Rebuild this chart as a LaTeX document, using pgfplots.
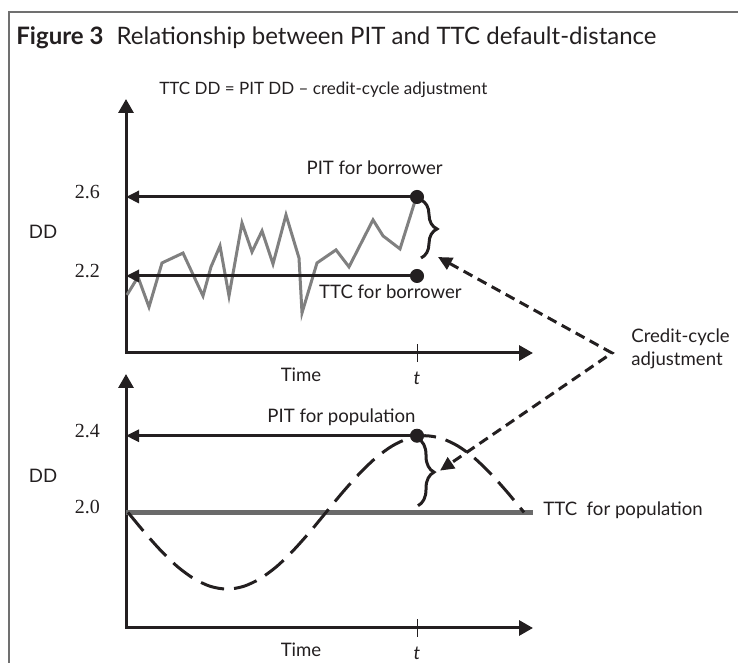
\documentclass[border=0pt]{standalone}
\usepackage{fontspec}
\setmainfont{Lato}
\newfontfamily\numfont{Liberation Serif}
\usepackage{pgfplots}
\pgfplotsset{compat=1.18}
\usetikzlibrary{arrows.meta,decorations.pathreplacing}
\definecolor{ink}{HTML}{231F20}
\definecolor{jag}{HTML}{808080}
\definecolor{ttc}{HTML}{6A6A6A}
\definecolor{frame}{HTML}{707070}

\tikzset{
  harrow/.style={line width=1.5pt, ink, -{Triangle[length=6.5pt,width=6pt]}},
  axarrows/.style={line width=1.5pt, ink, {Triangle[length=7pt,width=7.5pt]}-{Triangle[length=7pt,width=7.5pt]}},
}
\pgfplotsset{
  panel/.style={
    scale only axis, width=203.5pt, height=127pt, clip=false,
    xmin=0, xmax=407,
    axis lines=left, axis line style={draw=none},
    xtick={291}, xticklabels={\textit{t}},
    x tick style={draw=ink, line width=0.5pt},
    ytick style={draw=none},
    tick align=center, major tick length=9pt,
    xticklabel style={anchor=center, yshift=-8pt, font=\fontsize{9.3}{11}\selectfont, text=ink},
    yticklabel style={font=\numfont\fontsize{10}{12}\selectfont, text=ink, xshift=-5pt, yshift=2.5pt},
    /pgf/number format/assume math mode=true,
    /pgf/number format/fixed, /pgf/number format/precision=1, /pgf/number format/fixed zerofill,
    xlabel={Time},
    xlabel style={at={(rel axis cs:0.43,0)}, anchor=center, yshift=-11pt, font=\fontsize{9.3}{11}\selectfont, text=ink},
  },
}

\begin{document}
\begin{tikzpicture}
\useasboundingbox (0,0) rectangle (369pt,331.5pt);
% frame
\draw[line width=0.9pt, frame] (4.5pt,0pt) -- (4.5pt,325.5pt) -- (369pt,325.5pt);

% ---------- upper panel: borrower ----------
\begin{axis}[panel, name=top, at={(63pt,155pt)}, anchor=south west,
  ymin=1.81, ymax=3.096, ytick={2.2,2.6}]
  \draw[axarrows] (axis cs:0,3.096) -- (axis cs:0,1.81) -- (axis cs:407,1.81);
  \addplot[jag, line width=1.5pt] coordinates {
    (1,2.104) (12,2.195) (23,2.043) (36,2.266) (57,2.316) (77,2.099)
    (85,2.246) (94,2.352) (103,2.099) (116,2.468) (126,2.322) (136,2.428)
    (147,2.261) (160,2.509) (173,2.291) (176,2.013) (191,2.266) (210,2.332)
    (223,2.246) (247,2.484) (257,2.403) (274,2.337) (290,2.595)
  };
  \addplot[harrow] coordinates {(291,2.6) (0,2.6)};
  \addplot[harrow] coordinates {(291,2.2) (0,2.2)};
  \addplot[only marks, mark=*, mark size=3.3pt, ink] coordinates {(291,2.6) (291,2.2)};
  \draw[ink, line width=1.5pt, decorate, decoration={brace, amplitude=8pt}]
    (axis cs:295,2.585) -- (axis cs:295,2.291);
  \coordinate (ut) at (axis cs:312,2.296);
  \coordinate (vx) at (axis cs:486,1.81);
\end{axis}

% ---------- lower panel: population ----------
\begin{axis}[panel, name=bot, at={(63pt,17.5pt)}, anchor=south west,
  ymin=1.397, ymax=2.722, ytick={2.0,2.4}]
  \draw[axarrows] (axis cs:0,2.722) -- (axis cs:0,1.397) -- (axis cs:407,1.397);
  \addplot[ttc, line width=2.5pt] coordinates {(0,2.0) (407,2.0)};
  \addplot[ink, line width=1.5pt, dash pattern=on 12pt off 5pt, smooth] coordinates {
    (2,2.000) (18.5,1.896) (35,1.800) (51.5,1.717) (68,1.654) (84.5,1.614)
    (101,1.600) (117.5,1.614) (134,1.654) (150.5,1.717) (167,1.800) (183.5,1.896)
    (200,2.000) (216.5,2.104) (233,2.200) (249.5,2.283) (266,2.346) (282.5,2.386)
    (299,2.400) (315.5,2.386) (332,2.346) (348.5,2.283) (365,2.200) (381.5,2.104)
    (398,2.000)
  };
  \addplot[harrow] coordinates {(291,2.4) (0,2.4)};
  \addplot[only marks, mark=*, mark size=3.3pt, ink] coordinates {(291,2.4)};
  \draw[ink, line width=1.5pt, decorate, decoration={brace, amplitude=8pt}]
    (axis cs:292,2.385) -- (axis cs:292,2.035);
  \coordinate (lt) at (axis cs:314,2.218);
\end{axis}

% dashed annotation arrows
\draw[ink, line width=1.5pt, dash pattern=on 5pt off 3pt,
      {Triangle[length=7pt,width=6.5pt]}-{Triangle[length=7pt,width=6.5pt]}]
  (ut) -- (vx) -- (lt);

% ---------- texts (pixel coordinates, y down) ----------
\begin{scope}[x=0.5pt, y=-0.5pt, yshift=331.5pt, text=ink]
  \node[anchor=base west, inner sep=0pt] at (16,45)
    {\fontsize{12}{14}\selectfont\textbf{Figure 3}\hspace{0.55em}Relationship between PIT and TTC default-distance};
  \node[anchor=base west, inner sep=0pt] at (159,95)
    {\fontsize{8.5}{10}\selectfont TTC DD = PIT DD -- credit-cycle adjustment};
  \begin{scope}[every node/.style={font=\fontsize{9.3}{11}\selectfont, inner sep=0pt}]
    \node at (43,232) {DD};
    \node at (43,476) {DD};
    \node[anchor=east] at (443,168) {PIT for borrower};
    \node[anchor=east] at (462,292) {TTC for borrower};
    \node[anchor=west] at (267,417) {PIT for population};
    \node[anchor=west] at (543,510) {TTC\ \ for population};
    \node[anchor=west] at (631,337) {Credit-cycle};
    \node[anchor=west] at (631,360) {adjustment};
  \end{scope}
\end{scope}
\end{tikzpicture}
\end{document}
